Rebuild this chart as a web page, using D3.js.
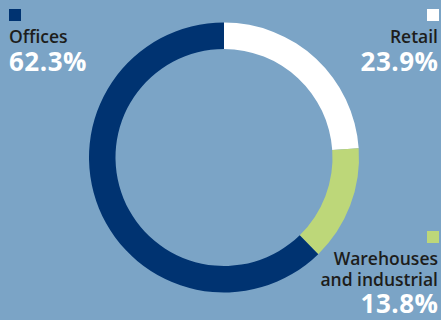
<!DOCTYPE html>
<html>
<head>
<meta charset="utf-8">
<script src="https://cdn.jsdelivr.net/npm/d3@7"></script>
<style>
  html, body { margin: 0; padding: 0; background: #7ba4c6; }
  svg { display: block; }
  text { font-family: "Open Sans", "DejaVu Sans", sans-serif; font-weight: 700; }
</style>
</head>
<body>
<svg id="chart" width="441" height="320"></svg>
<script>
// segment order starts at 12 o'clock, clockwise
var categories = ["Retail", "Warehouses and industrial", "Offices"];
var shares = [23.9, 13.8, 62.3];
var colours = ["#ffffff", "#bdd779", "#003371"];

// label blocks: lines of name text, anchor side and vertical placement
var labelLines = [["Retail"], ["Warehouses", "and industrial"], ["Offices"]];
var labelSide = ["right", "right", "left"];
var labelTop = [9, 231, 9];

(function () {
    var svg = d3.select("#chart");

    var cx = 224, cy = 157.5,
        outerR = 135, innerR = 108.5;

    var data = categories.map(function (c, i) {
        return { name: c, value: shares[i], colour: colours[i], lines: labelLines[i], side: labelSide[i], top: labelTop[i] };
    });

    var pie = d3.pie().sort(null).value(function (d) { return d.value; });
    var arc = d3.arc().innerRadius(innerR).outerRadius(outerR);

    svg.append("g")
        .attr("transform", "translate(" + cx + "," + cy + ")")
        .selectAll("path")
        .data(pie(data))
        .enter().append("path")
        .attr("d", arc)
        .attr("fill", function (d) { return d.data.colour; });

    var fmt = d3.format(".1f");

    data.forEach(function (d) {
        var right = d.side === "right";
        var x = right ? 438 : 9;
        var anchor = right ? "end" : "start";
        var g = svg.append("g");

        g.append("rect")
            .attr("x", right ? x - 11 : x)
            .attr("y", d.top)
            .attr("width", 12)
            .attr("height", 12)
            .attr("fill", d.colour);

        var y = d.top + 34;
        d.lines.forEach(function (line, j) {
            g.append("text")
                .attr("x", x)
                .attr("y", y + j * 20.5)
                .attr("text-anchor", anchor)
                .attr("fill", "#1d1d1b")
                .style("font-size", "17.5px")
                .style("font-weight", 600)
                .text(line);
        });
        g.append("text")
            .attr("x", right ? x + 0.5 : x)
            .attr("y", y + (d.lines.length - 1) * 20.5 + 27.5)
            .attr("text-anchor", anchor)
            .attr("fill", "#ffffff")
            .style("font-size", "26px")
            .style("letter-spacing", "0.5px")
            .text(fmt(d.value) + "%");
    });
})();
</script>
</body>
</html>
